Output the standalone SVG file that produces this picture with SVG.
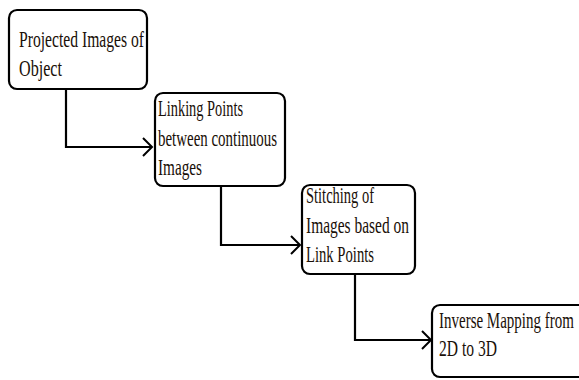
<svg xmlns="http://www.w3.org/2000/svg" width="579" height="380" viewBox="0 0 579 380">
<style>
.box{fill:#fff;stroke:#000;stroke-width:2.2}
.lbl{font-family:"Liberation Serif","Times New Roman",serif;font-size:24px;fill:#1a1008}
.conn{fill:none;stroke:#000;stroke-width:2.2}
.head{fill:none;stroke:#000;stroke-width:2}
</style>
<rect width="579" height="380" fill="#fff"/>
<g id="connectors">
<path class="conn" d="M66 89 V147 H152"/>
<path class="head" d="M143 138 L152 147 L143 156"/>
<path class="conn" d="M221 186 V245 H300"/>
<path class="head" d="M291 236 L300 245 L291 254"/>
<path class="conn" d="M355 274 V340 H431"/>
<path class="head" d="M422 331 L431 340 L422 349"/>
</g>
<g id="n1">
<rect class="box" x="9" y="10" width="138" height="79" rx="8"/>
<text class="lbl" x="19" y="47" textLength="125" lengthAdjust="spacingAndGlyphs">Projected Images of</text>
<text class="lbl" x="19" y="76" textLength="43" lengthAdjust="spacingAndGlyphs">Object</text>
</g>
<g id="n2">
<rect class="box" x="155" y="93" width="130" height="93" rx="8"/>
<text class="lbl" x="158" y="116" textLength="85" lengthAdjust="spacingAndGlyphs">Linking Points</text>
<text class="lbl" x="158" y="146" textLength="119" lengthAdjust="spacingAndGlyphs">between continuous</text>
<text class="lbl" x="158" y="175" textLength="44" lengthAdjust="spacingAndGlyphs">Images</text>
</g>
<g id="n3">
<rect class="box" x="302" y="185" width="113" height="89" rx="8"/>
<text class="lbl" x="306" y="203" textLength="68" lengthAdjust="spacingAndGlyphs">Stitching of</text>
<text class="lbl" x="306" y="233" textLength="103" lengthAdjust="spacingAndGlyphs">Images based on</text>
<text class="lbl" x="306" y="262" textLength="68" lengthAdjust="spacingAndGlyphs">Link Points</text>
</g>
<g id="n4">
<rect class="box" x="432" y="305" width="160" height="72" rx="8"/>
<text class="lbl" transform="translate(439 328) scale(0.625 1)">Inverse Mapping from</text>
<text class="lbl" x="439" y="356" textLength="58" lengthAdjust="spacingAndGlyphs">2D to 3D</text>
</g>
</svg>
